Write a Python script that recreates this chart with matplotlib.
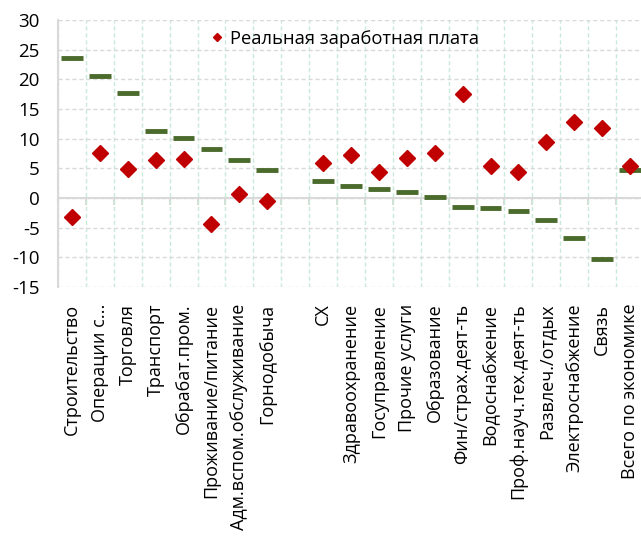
import matplotlib
matplotlib.use('Agg')
import matplotlib.pyplot as plt
import numpy as np

# sectors, left group sorted by the green series, gap, then the rest
sectors = ['Строительство', 'Операции с...', 'Торговля', 'Транспорт', 'Обрабат.пром.',
           'Проживание/питание', 'Адм.вспом.обслуживание', 'Горнодобыча', '',
           'СХ', 'Здравоохранение', 'Госуправление', 'Прочие услуги', 'Образование',
           'Фин/страх.деят-ть', 'Водоснабжение', 'Проф.науч.тех.деят-ть', 'Развлеч./отдых',
           'Электроснабжение', 'Связь', 'Всего по экономике']
green_vals = [23.6, 20.55, 17.7, 11.35, 10.15, 8.3, 6.45, 4.8, np.nan,
              2.8, 1.95, 1.45, 0.95, 0.1, -1.55, -1.75, -2.25, -3.75, -6.75, -10.25, 4.8]
real_wage = [-3.25, 7.6, 4.95, 6.35, 6.55, -4.4, 0.7, -0.55, np.nan,
             5.85, 7.25, 4.45, 6.75, 7.6, 17.55, 5.35, 4.3, 9.5, 12.85, 11.75, 5.4]
legend_label = 'Реальная заработная плата'
title_text = 'Производительность труда и реальная заработная плата по отраслям в 2023 году'

plt.rcParams['font.family'] = ['Open Sans', 'DejaVu Sans']
plt.rcParams['axes.unicode_minus'] = False

fig = plt.figure(figsize=(6.41, 5.39), dpi=100)
ax = fig.add_axes([58 / 641, 1 - 287 / 539, 586 / 641, 267 / 539])

x = np.arange(len(sectors))
ax.hlines(green_vals, x - 0.39, x + 0.39, color='#4a6b2c', lw=3.5, zorder=3)
ax.plot(x, real_wage, ls='none', marker='D', ms=8, color='#c00000',
        label=legend_label, zorder=4)

ax.set_xlim(-0.5, len(sectors) - 0.5)
ax.set_ylim(-15, 30)
ax.set_yticks(np.arange(-15, 31, 5))
ax.tick_params(axis='y', length=0, pad=13, labelsize=13.5, colors='#000000')

ax.set_xticks(x)
ax.set_xticklabels(sectors, rotation=90, fontsize=13)
ax.tick_params(axis='x', which='major', length=0, pad=12)
ax.set_xticks(np.arange(len(sectors) + 1) - 0.5, minor=True)
ax.tick_params(axis='x', which='minor', length=0)

ax.grid(axis='y', which='major', color='#d9d9d9', ls=(0, (3, 2)), lw=1)
ax.grid(axis='x', which='minor', color='#c9ead8', ls=(0, (3, 2)), lw=1)
ax.set_axisbelow(True)

for s in ['top', 'right', 'bottom']:
    ax.spines[s].set_visible(False)
ax.spines['left'].set_color('#d9d9d9')
ax.spines['left'].set_linewidth(1.5)

# category axis crossing at zero with outward ticks
zero_ax = ax.secondary_xaxis(0, transform=ax.transData)
zero_ax.set_xticks(np.arange(len(sectors) + 1) - 0.5)
zero_ax.set_xticklabels([])
zero_ax.tick_params(length=5, width=1.5, color='#d9d9d9')
zero_ax.spines['bottom'].set_color('#d9d9d9')
zero_ax.spines['bottom'].set_linewidth(1.5)

ax.legend(loc='upper left', bbox_to_anchor=(0.24, 1.005), frameon=False,
          fontsize=13.2, handlelength=0.8, handletextpad=0.3, borderaxespad=0.2,
          markerscale=0.55)

fig.text(0.47, 1.013, title_text, ha='center', va='baseline', fontsize=16,
         fontweight='bold', color='#17402a')

fig.savefig('out.png', dpi=100)
